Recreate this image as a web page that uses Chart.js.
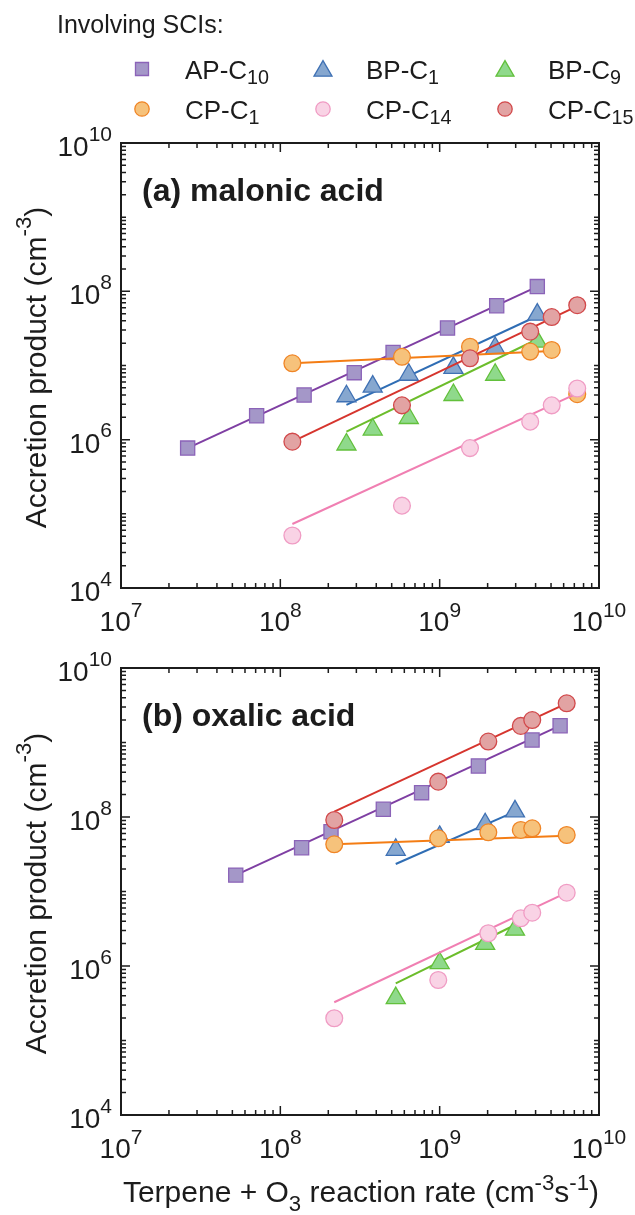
<!DOCTYPE html>
<html>
<head>
<meta charset="utf-8">
<script src="https://cdn.jsdelivr.net/npm/chart.js@4/dist/chart.umd.min.js"></script>
<style>
html, body { margin: 0; padding: 0; background: #fff; }
#wrap { position: relative; width: 635px; height: 1215px; overflow: hidden; }
#wrap canvas { position: absolute; left: 0; }
</style>
</head>
<body>
<div id="wrap">
  <canvas id="chartA" width="635" height="640" style="top:0"></canvas>
  <canvas id="chartB" width="635" height="575" style="top:640px"></canvas>
</div>
<script>
// axis ranges and tick labels (10^n)
const xMin = 1e7, xMax = 1e10;
const yMin = 1e4, yMax = 1e10;
const xTickValues = [1e7, 1e8, 1e9, 1e10];
const xTickExps = ['7', '8', '9', '10'];
const yTickValues = [1e4, 1e6, 1e8, 1e10];
const yTickExps = ['4', '6', '8', '10'];

// series names: base + subscript
const seriesBase = ['AP-C', 'BP-C', 'BP-C', 'CP-C', 'CP-C', 'CP-C'];
const seriesSub = ['10', '1', '9', '1', '14', '15'];

// (a) malonic acid - points
const malApX = [2.62e7, 7.1e7, 1.41e8, 2.91e8, 5.1e8, 1.12e9, 2.28e9, 4.1e9];
const malApY = [7.7e5, 2.1e6, 4.0e6, 8.0e6, 1.5e7, 3.2e7, 6.4e7, 1.16e8];
const malBpX = [2.6e8, 3.8e8, 6.4e8, 1.22e9, 2.23e9, 4.1e9];
const malBp1Y = [3.85e6, 5.2e6, 7.5e6, 9.3e6, 1.72e7, 4.85e7];
const malBp9Y = [8.6e5, 1.37e6, 1.96e6, 4.0e6, 7.5e6, 2.1e7];
const malCpX = [1.19e8, 5.8e8, 1.55e9, 3.7e9, 5.05e9, 7.3e9];
const malCp1Y = [1.07e7, 1.31e7, 1.79e7, 1.54e7, 1.62e7, 4.1e6];
const malCp14Y = [5.1e4, 1.29e5, 7.7e5, 1.75e6, 2.9e6, 4.9e6];
const malCp15Y = [9.4e5, 2.9e6, 1.25e7, 2.86e7, 4.5e7, 6.5e7];
// (a) fitted lines: [start, end] as [x, y]
const malApFit = [[2.62e7, 7.7e5], [4.1e9, 1.16e8]];
const malBp1Fit = [[2.6e8, 2.94e6], [4.1e9, 4.65e7]];
const malBp9Fit = [[2.6e8, 1.28e6], [4.1e9, 2.26e7]];
const malCp1Fit = [[1.19e8, 1.07e7], [5.05e9, 1.57e7]];
const malCp14Fit = [[1.19e8, 7.3e4], [7.3e9, 4.2e6]];
const malCp15Fit = [[1.19e8, 9.4e5], [7.3e9, 6.3e7]];

// (b) oxalic acid - points
const oxaApX = [5.25e7, 1.36e8, 2.08e8, 4.43e8, 7.7e8, 1.75e9, 3.8e9, 5.7e9];
const oxaApY = [1.66e7, 3.87e7, 6.35e7, 1.27e8, 2.12e8, 4.84e8, 1.08e9, 1.68e9];
const oxaBpX = [5.3e8, 1.0e9, 1.93e9, 2.97e9];
const oxaBp1Y = [3.63e7, 5.4e7, 8.0e7, 1.19e8];
const oxaBp9Y = [3.7e5, 1.09e6, 1.98e6, 3.07e6];
const oxaCpX = [2.18e8, 9.8e8, 2.02e9, 3.23e9, 3.81e9, 6.27e9];
const oxaCp1Y = [4.3e7, 5.18e7, 6.23e7, 6.7e7, 7.05e7, 5.73e7];
const oxaCp14Y = [1.99e5, 6.49e5, 2.75e6, 4.37e6, 5.19e6, 9.64e6];
const oxaCp15Y = [9.12e7, 2.98e8, 1.03e9, 1.67e9, 2.0e9, 3.36e9];
// (b) fitted lines
const oxaApFit = [[5.25e7, 1.66e7], [5.7e9, 1.68e9]];
const oxaBp1Fit = [[5.3e8, 2.34e7], [2.97e9, 1.18e8]];
const oxaBp9Fit = [[5.3e8, 5.86e5], [2.97e9, 3.55e6]];
const oxaCp1Fit = [[2.18e8, 4.3e7], [6.27e9, 5.61e7]];
const oxaCp14Fit = [[2.18e8, 3.26e5], [6.27e9, 9.64e6]];
const oxaCp15Fit = [[2.18e8, 1.18e8], [6.27e9, 3.36e9]];

// styles
const lineColors = ['#7f3fa3', '#2f6db4', '#6cbd2b', '#f47d14', '#f07fb2', '#d6352e'];
const fillColors = ['#a497c8', '#86a7cf', '#8fd98b', '#f6c27b', '#f9d3e5', '#e2a3a3'];
const edgeColors = ['#8b63b8', '#3f71b4', '#62c03b', '#f08526', '#f09cc4', '#d2494b'];
const markerStyle = ['rect', 'triangle', 'triangle', 'circle', 'circle', 'circle'];
const markerRadius = [10, 11, 11, 8.4, 8.4, 8.4];

const FONT = '"Liberation Sans", Arial, Helvetica, sans-serif';
const INK = '#1c1c1c';

function panelDatasets(points, fits) {
    const ds = [];
    points.forEach(([xs, ys], i) => {
        ds.push({
            data: xs.map((x, j) => ({ x: x, y: ys[j] })),
            showLine: false,
            pointStyle: markerStyle[i],
            pointRadius: markerRadius[i],
            pointBackgroundColor: fillColors[i],
            pointBorderColor: edgeColors[i],
            pointBorderWidth: 1.3,
            order: 20 - 2 * i
        });
        ds.push({
            data: fits[i].map(([x, y]) => ({ x: x, y: y })),
            showLine: true,
            pointRadius: 0,
            borderColor: lineColors[i],
            borderWidth: 2,
            order: 21 - 2 * i
        });
    });
    return ds;
}

// text with sub/superscripts; parts: [{t, s}] s=1 sup, s=-1 sub
function drawRich(ctx, parts, x, y, o) {
    const fs = o.size, small = fs * (o.small || 0.74);
    const font = (s) => (o.bold ? 'bold ' : '') + s + 'px ' + FONT;
    let w = 0;
    const widths = parts.map(p => {
        ctx.font = font(p.s ? small : fs);
        const m = ctx.measureText(p.t).width;
        w += m;
        return m;
    });
    ctx.save();
    ctx.translate(x, y);
    if (o.rot) ctx.rotate(o.rot);
    ctx.fillStyle = INK;
    ctx.textAlign = 'left';
    ctx.textBaseline = 'alphabetic';
    let cx = o.align === 'center' ? -w / 2 : (o.align === 'right' ? -w : 0);
    parts.forEach((p, i) => {
        ctx.font = font(p.s ? small : fs);
        const dy = p.s === 1 ? -(o.up || 0.45) * fs : (p.s === -1 ? (o.down || 0.22) * fs : 0);
        ctx.fillText(p.t, cx, dy);
        cx += widths[i];
    });
    ctx.restore();
}

function logSteps(min, max) {
    const out = [];
    for (let e = Math.round(Math.log10(min)); e < Math.round(Math.log10(max)); e++) {
        for (let k = 1; k < 10; k++) out.push(k * Math.pow(10, e));
    }
    out.push(max);
    return out;
}

function isMajor(v, list) {
    return list.some(t => Math.abs(Math.log10(t) - Math.log10(v)) < 1e-6);
}

function marker(ctx, style, r, x, y, fill, edge) {
    ctx.save();
    ctx.fillStyle = fill;
    ctx.strokeStyle = edge;
    ctx.lineWidth = 1.3;
    if (Chart.helpers && Chart.helpers.drawPoint) {
        Chart.helpers.drawPoint(ctx, { pointStyle: style, radius: r, rotation: 0, borderWidth: 1.3 }, x, y);
    } else {
        ctx.beginPath();
        ctx.arc(x, y, r, 0, Math.PI * 2);
        ctx.fill();
        ctx.stroke();
    }
    ctx.restore();
}

function decor(cfg) {
    return {
        id: 'decor',
        afterDraw(chart) {
            const ctx = chart.ctx, a = chart.chartArea;
            const sx = chart.scales.x, sy = chart.scales.y;
            ctx.save();
            // inward ticks on all four sides
            ctx.strokeStyle = INK;
            ctx.lineWidth = 1.5;
            ctx.beginPath();
            logSteps(xMin, xMax).forEach(v => {
                const p = sx.getPixelForValue(v);
                const len = isMajor(v, xTickValues) ? 9 : 5;
                ctx.moveTo(p, a.bottom); ctx.lineTo(p, a.bottom - len);
                ctx.moveTo(p, a.top); ctx.lineTo(p, a.top + len);
            });
            logSteps(yMin, yMax).forEach(v => {
                const p = sy.getPixelForValue(v);
                const len = isMajor(v, yTickValues) ? 9 : 5;
                ctx.moveTo(a.left, p); ctx.lineTo(a.left + len, p);
                ctx.moveTo(a.right, p); ctx.lineTo(a.right - len, p);
            });
            ctx.stroke();
            // box
            ctx.lineWidth = 2;
            ctx.strokeRect(a.left, a.top, a.right - a.left, a.bottom - a.top);
            ctx.restore();

            // tick labels
            xTickValues.forEach((v, i) => {
                drawRich(ctx, [{ t: '10' }, { t: xTickExps[i], s: 1 }],
                    sx.getPixelForValue(v), a.bottom + 43, { size: 28, align: 'center', up: 0.5, small: 0.75 });
            });
            yTickValues.forEach((v, i) => {
                drawRich(ctx, [{ t: '10' }, { t: yTickExps[i], s: 1 }],
                    a.left - 9, sy.getPixelForValue(v) + 13, { size: 28, align: 'right', up: 0.55, small: 0.75 });
            });

            // y axis title
            drawRich(ctx, [{ t: 'Accretion product (cm' }, { t: '-3', s: 1 }, { t: ')' }],
                46, (a.top + a.bottom) / 2 + 2, { size: 30, align: 'center', rot: -Math.PI / 2, up: 0.5 });

            // panel title
            drawRich(ctx, [{ t: cfg.title }], a.left + 21, a.top + 58, { size: 32, bold: true });

            // x axis title
            if (cfg.xTitle) {
                drawRich(ctx, [
                    { t: 'Terpene + O' }, { t: '3', s: -1 }, { t: ' reaction rate (cm' },
                    { t: '-3', s: 1 }, { t: 's' }, { t: '-1', s: 1 }, { t: ')' }
                ], (a.left + a.right) / 2 + 1, a.bottom + 87, { size: 30, align: 'center', down: 0.3, up: 0.4 });
            }

            // legend
            if (cfg.legend) {
                drawRich(ctx, [{ t: 'Involving SCIs:' }], 57, 33, { size: 25 });
                const colX = [142, 323, 505];
                const rowY = [69, 109];
                seriesBase.forEach((b, i) => {
                    const cx = colX[i % 3], cy = rowY[Math.floor(i / 3)];
                    const r = markerStyle[i] === 'rect' ? 9.2 : (markerStyle[i] === 'triangle' ? 10.4 : 7.2);
                    marker(ctx, markerStyle[i], r, cx, cy + (markerStyle[i] === 'triangle' ? 2 : 0), fillColors[i], edgeColors[i]);
                    drawRich(ctx, [{ t: b }, { t: seriesSub[i], s: -1 }], cx + 43, cy + 10, { size: 26, down: 0.2, small: 0.76 });
                });
            }
        }
    };
}

function makeChart(id, datasets, pad, cfg) {
    return new Chart(document.getElementById(id), {
        type: 'scatter',
        data: { datasets: datasets },
        options: {
            responsive: false,
            animation: false,
            events: [],
            layout: { padding: pad },
            plugins: { legend: { display: false }, tooltip: { enabled: false } },
            scales: {
                x: { type: 'logarithmic', min: xMin, max: xMax, display: false },
                y: { type: 'logarithmic', min: yMin, max: yMax, display: false }
            }
        },
        plugins: [decor(cfg)]
    });
}

makeChart('chartA', panelDatasets(
    [[malApX, malApY], [malBpX, malBp1Y], [malBpX, malBp9Y], [malCpX, malCp1Y], [malCpX, malCp14Y], [malCpX, malCp15Y]],
    [malApFit, malBp1Fit, malBp9Fit, malCp1Fit, malCp14Fit, malCp15Fit]
), { left: 121, top: 143, right: 36, bottom: 52 }, { title: '(a) malonic acid', legend: true });

makeChart('chartB', panelDatasets(
    [[oxaApX, oxaApY], [oxaBpX, oxaBp1Y], [oxaBpX, oxaBp9Y], [oxaCpX, oxaCp1Y], [oxaCpX, oxaCp14Y], [oxaCpX, oxaCp15Y]],
    [oxaApFit, oxaBp1Fit, oxaBp9Fit, oxaCp1Fit, oxaCp14Fit, oxaCp15Fit]
), { left: 121, top: 28, right: 36, bottom: 100 }, { title: '(b) oxalic acid', xTitle: true });
</script>
</body>
</html>
